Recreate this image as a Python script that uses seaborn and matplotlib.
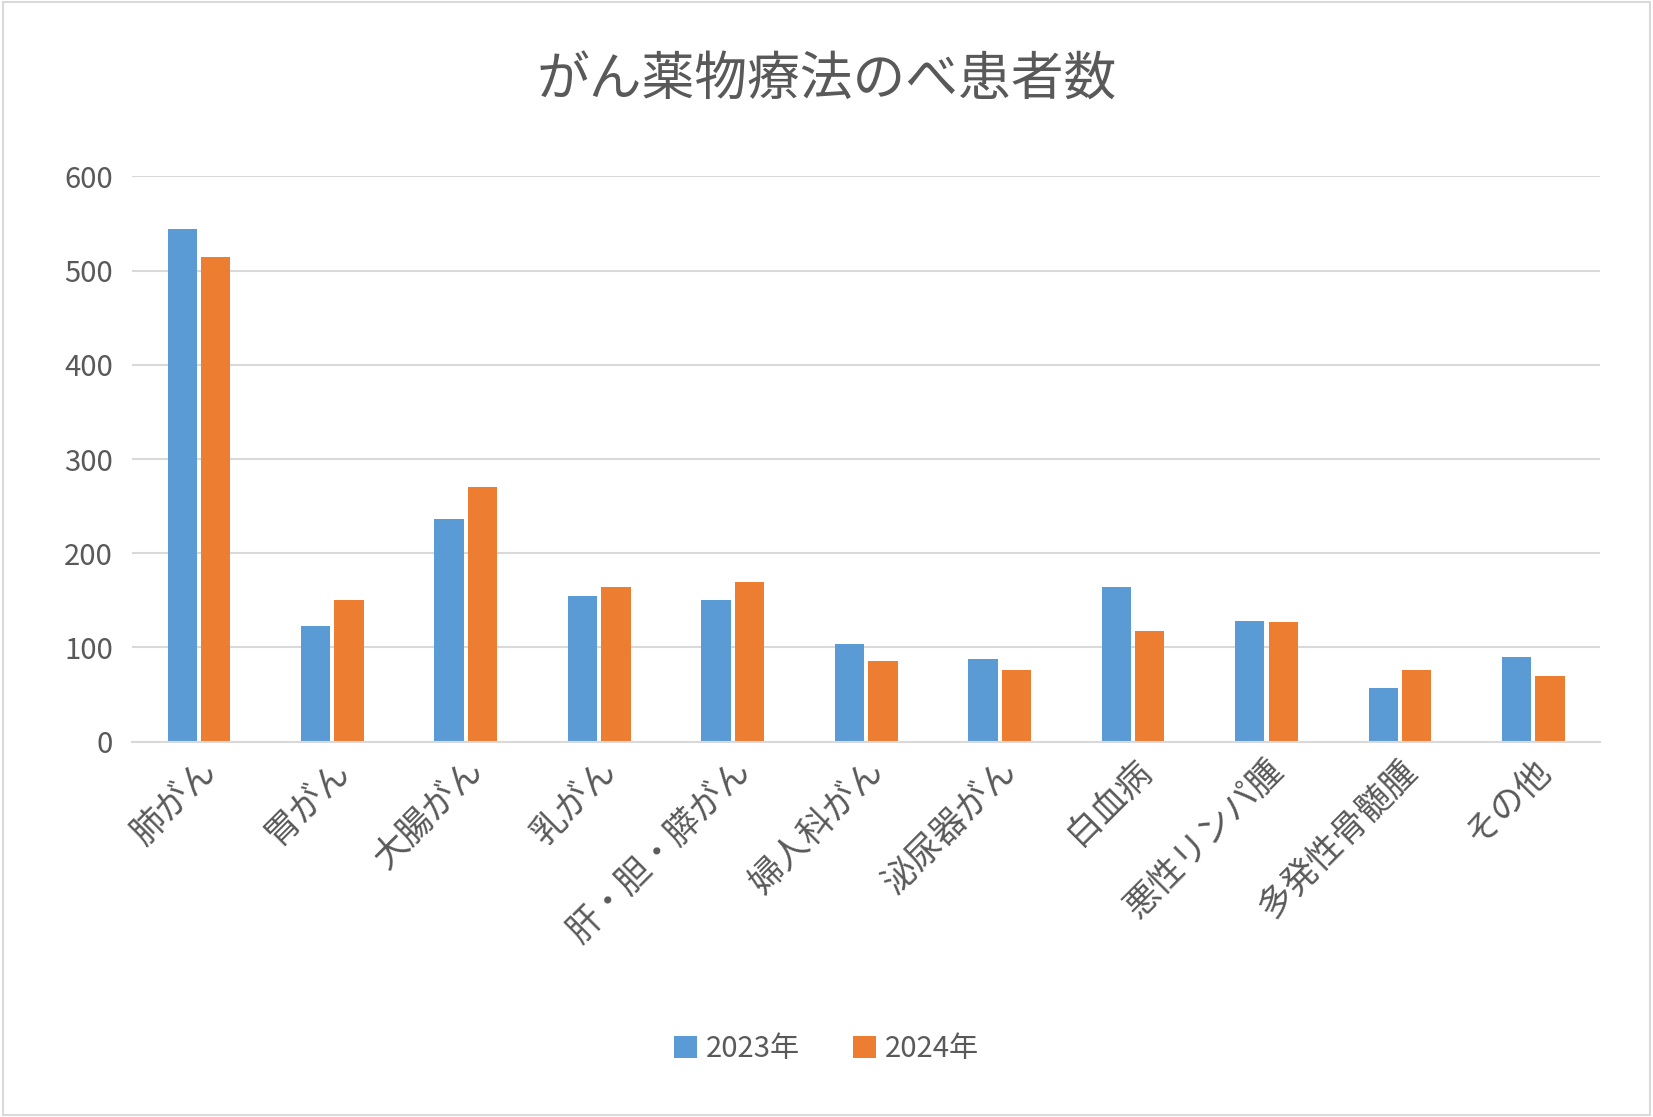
import matplotlib
matplotlib.use("Agg")
import matplotlib.pyplot as plt
import seaborn as sns
import pandas as pd

categories = ["肺がん", "胃がん", "大腸がん", "乳がん", "肝・胆・膵がん", "婦人科がん",
              "泌尿器がん", "白血病", "悪性リンパ腫", "多発性骨髄腫", "その他"]
v2023 = [544, 123, 236, 155, 150, 104, 88, 164, 128, 57, 90]
v2024 = [514, 150, 270, 164, 169, 86, 76, 117, 127, 76, 70]
series = ["2023年", "2024年"]

plt.rcParams["font.family"] = ["Noto Sans CJK JP", "DejaVu Sans"]
df = pd.DataFrame({"cat": categories * 2, "val": v2023 + v2024,
                   "year": [series[0]] * len(categories) + [series[1]] * len(categories)})

fig = plt.figure(figsize=(16.53, 11.17), dpi=100)
ax = fig.add_axes([0.08, 0.336, 0.888, 0.506])
sns.barplot(data=df, x="cat", y="val", hue="year", palette=["#5B9BD5", "#ED7D31"],
            width=0.5, gap=0.12, ax=ax, saturation=1)
ax.set_ylim(0, 600)
ax.set_yticks(range(0, 601, 100))
ax.set_xlim(-0.5, len(categories) - 0.5)
ax.grid(axis="y", color="#D9D9D9", lw=1.5)
ax.set_axisbelow(True)
for s in ["top", "right", "left"]:
    ax.spines[s].set_visible(False)
ax.spines["bottom"].set_color("#D9D9D9")
ax.spines["bottom"].set_linewidth(1.5)
ax.tick_params(axis="both", length=0, colors="#595959", labelsize=21)
ax.tick_params(axis="y", pad=14)
ax.tick_params(axis="x", pad=8)
plt.setp(ax.get_xticklabels(), rotation=45, ha="right", rotation_mode="anchor", fontsize=25)
ax.set_xlabel("")
ax.set_ylabel("")
fig.text(0.5, 0.928, "がん薬物療法のべ患者数", ha="center", va="center", fontsize=38, color="#595959")
ax.legend(loc="center", bbox_to_anchor=(0.5, 0.061), bbox_transform=fig.transFigure, ncol=2,
          frameon=False, fontsize=21, labelcolor="#595959", handlelength=0.8, handleheight=0.8,
          handletextpad=0.3, columnspacing=1.8)
fig.patches.append(plt.Rectangle((0.002, 0.002), 0.996, 0.996, transform=fig.transFigure,
                                 fill=False, edgecolor="#D9D9D9", lw=1.5))
fig.savefig("out.png", dpi=100)
